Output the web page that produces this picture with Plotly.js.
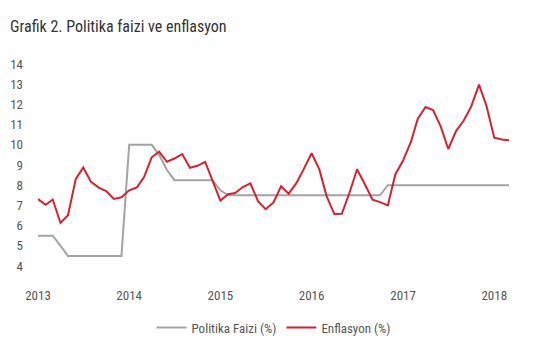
<!DOCTYPE html>
<html>
<head>
<meta charset="utf-8">
<script src="https://cdn.plot.ly/plotly-3.0.1.min.js"></script>
<style>html,body{margin:0;padding:0;background:#fff;}#chart{width:555px;height:355px;}</style>
</head>
<body>
<div id="chart"></div>
<script>
const startYear = 2013;
const nMonths = 63;
const months = [];
for (let i = 0; i < nMonths; i++) {
  const y = startYear + Math.floor(i / 12);
  const m = (i % 12) + 1;
  months.push(y + '-' + String(m).padStart(2, '0') + '-01');
}
const policyRate = [
  5.5, 5.5, 5.5, 5.0, 4.5, 4.5, 4.5, 4.5, 4.5, 4.5, 4.5, 4.5,
  10, 10, 10, 10, 9.5, 8.75, 8.25, 8.25, 8.25, 8.25, 8.25, 8.25,
  7.75, 7.5, 7.5, 7.5, 7.5, 7.5, 7.5, 7.5, 7.5, 7.5, 7.5, 7.5,
  7.5, 7.5, 7.5, 7.5, 7.5, 7.5, 7.5, 7.5, 7.5, 7.5, 8, 8,
  8, 8, 8, 8, 8, 8, 8, 8, 8, 8, 8, 8,
  8, 8, 8
];
const inflation = [
  7.31, 7.03, 7.29, 6.13, 6.51, 8.30, 8.88, 8.17, 7.88, 7.71, 7.32, 7.40,
  7.75, 7.89, 8.39, 9.38, 9.66, 9.16, 9.32, 9.54, 8.86, 8.96, 9.15, 8.17,
  7.24, 7.55, 7.61, 7.91, 8.09, 7.20, 6.81, 7.14, 7.95, 7.58, 8.10, 8.81,
  9.58, 8.78, 7.46, 6.57, 6.58, 7.64, 8.79, 8.05, 7.28, 7.16, 7.00, 8.53,
  9.22, 10.13, 11.29, 11.87, 11.72, 10.90, 9.79, 10.68, 11.20, 11.90, 12.98, 11.92,
  10.35, 10.26, 10.23
];
const yTicks = [4, 5, 6, 7, 8, 9, 10, 11, 12, 13, 14];
const xTicks = ['2013-01-01', '2014-01-01', '2015-01-01', '2016-01-01', '2017-01-01', '2018-01-01'];
const xTickText = ['2013', '2014', '2015', '2016', '2017', '2018'];

const fontFam = '"Liberation Sans Narrow", "Roboto Condensed", Roboto, sans-serif';

const traces = [
  {x: months, y: policyRate, type: 'scatter', mode: 'lines', name: 'Politika Faizi (%)',
   line: {color: '#a3a3a3', width: 2}},
  {x: months, y: inflation, type: 'scatter', mode: 'lines', name: 'Enflasyon (%)',
   line: {color: '#d2232f', width: 2}}
];
const layout = {
  width: 555, height: 355,
  paper_bgcolor: '#fff', plot_bgcolor: '#fff',
  margin: {l: 38, r: 46, t: 64, b: 78},
  font: {family: fontFam, color: '#555', size: 13},
  title: {text: 'Grafik 2. Politika faizi ve enflasyon', x: 0.018, xanchor: 'left', y: 0.927, yanchor: 'middle',
          font: {family: fontFam, size: 16, color: '#333'}},
  xaxis: {type: 'date', range: ['2013-01-01', '2018-03-01'], tickvals: xTicks, ticktext: xTickText,
          showgrid: false, zeroline: false, showline: false, ticks: '', ticklabelstandoff: 20,
          fixedrange: true},
  yaxis: {range: [4, 14], tickvals: yTicks, showgrid: false, zeroline: false, showline: false,
          ticks: '', ticklabelstandoff: 14, fixedrange: true},
  showlegend: true,
  legend: {orientation: 'h', x: 0.5, xanchor: 'center', y: -0.305, yanchor: 'middle',
           font: {family: fontFam, size: 13, color: '#555'}, itemwidth: 30, tracegroupgap: 0}
};
Plotly.newPlot('chart', traces, layout, {staticPlot: true, displayModeBar: false});
</script>
</body>
</html>
